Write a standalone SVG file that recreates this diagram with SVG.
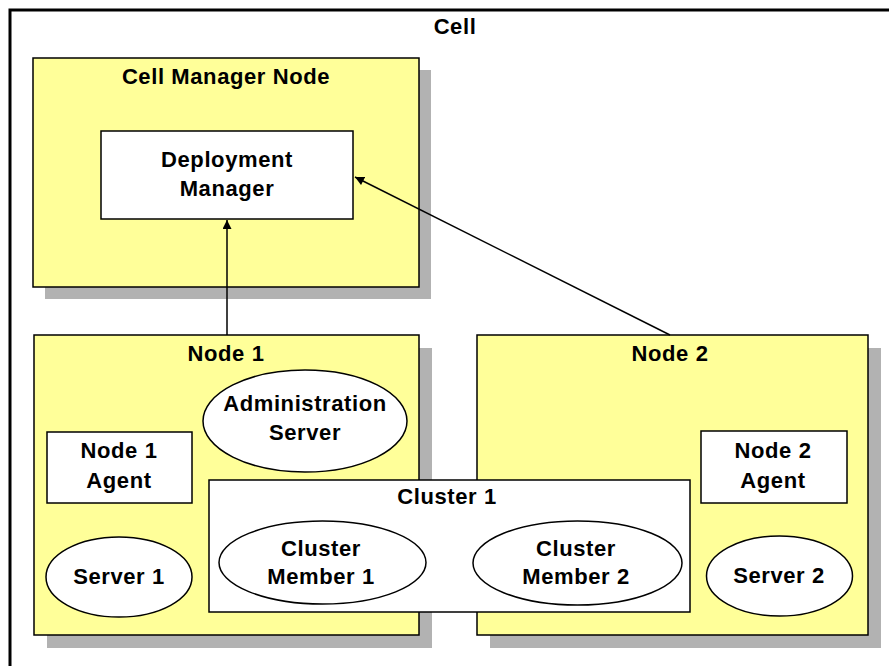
<svg xmlns="http://www.w3.org/2000/svg" width="889" height="666" viewBox="0 0 889 666">
<defs>
<style>
.t{font-family:"Liberation Sans",Arial,sans-serif;font-weight:bold;font-size:22px;letter-spacing:0.6px;fill:#000;text-anchor:middle}
.node{fill:#FFFF99;stroke:#000;stroke-width:1.5}
.shadow{fill:#B2B2B2}
.box{fill:#fff;stroke:#000;stroke-width:1.5}
.conn{stroke:#000;stroke-width:1.5;fill:none}
</style>
<marker id="ah" viewBox="0 0 10 10" refX="10" refY="5" markerWidth="10" markerHeight="9" markerUnits="userSpaceOnUse" orient="auto">
<path d="M0,0 L10,5 L0,10 z" fill="#000"/>
</marker>
</defs>
<rect width="889" height="666" fill="#fff"/>
<g id="cell">
<rect x="10" y="10" width="920" height="700" fill="#fff" stroke="#000" stroke-width="3"/>
<text class="t" x="455" y="34">Cell</text>
</g>
<g id="cell-manager-node">
<rect class="shadow" x="45" y="70" width="386" height="229"/>
<rect class="node" x="33" y="58" width="386" height="229"/>
<text class="t" x="226" y="84">Cell Manager Node</text>
</g>
<g id="deployment-manager">
<rect class="box" x="101" y="131" width="252" height="88"/>
<text class="t" x="227" y="167">Deployment</text>
<text class="t" x="227" y="196">Manager</text>
</g>
<g id="node1">
<rect class="shadow" x="47" y="348" width="385" height="300"/>
<rect class="node" x="34" y="335" width="385" height="300"/>
<text class="t" x="226" y="361">Node 1</text>
</g>
<g id="node2">
<rect class="shadow" x="490" y="348" width="391" height="300"/>
<rect class="node" x="477" y="335" width="391" height="300"/>
<text class="t" x="670" y="361">Node 2</text>
</g>
<g id="admin-server">
<ellipse class="box" cx="305" cy="421" rx="102" ry="51"/>
<text class="t" x="305" y="411">Administration</text>
<text class="t" x="305" y="440">Server</text>
</g>
<g id="node1-agent">
<rect class="box" x="47" y="432" width="145" height="71"/>
<text class="t" x="119" y="458">Node 1</text>
<text class="t" x="119" y="488">Agent</text>
</g>
<g id="server1">
<ellipse class="box" cx="119" cy="577" rx="73" ry="40"/>
<text class="t" x="119" y="584">Server 1</text>
</g>
<g id="node2-agent">
<rect class="box" x="701" y="431" width="146" height="72"/>
<text class="t" x="773" y="458">Node 2</text>
<text class="t" x="773" y="488">Agent</text>
</g>
<g id="server2">
<ellipse class="box" cx="779.5" cy="576" rx="73" ry="40"/>
<text class="t" x="779" y="583">Server 2</text>
</g>
<g id="cluster1">
<rect class="box" x="209" y="480" width="481" height="132"/>
<text class="t" x="447" y="504">Cluster 1</text>
</g>
<g id="cluster-member1">
<ellipse class="box" cx="322.5" cy="562.5" rx="103.5" ry="41.5"/>
<text class="t" x="321" y="556">Cluster</text>
<text class="t" x="321" y="584">Member 1</text>
</g>
<g id="cluster-member2">
<ellipse class="box" cx="577.5" cy="563" rx="104.5" ry="42"/>
<text class="t" x="576" y="556">Cluster</text>
<text class="t" x="576" y="584">Member 2</text>
</g>
<g id="connectors">
<line class="conn" x1="227" y1="335" x2="227" y2="220" marker-end="url(#ah)"/>
<line class="conn" x1="670" y1="335" x2="355" y2="177" marker-end="url(#ah)"/>
</g>
</svg>
